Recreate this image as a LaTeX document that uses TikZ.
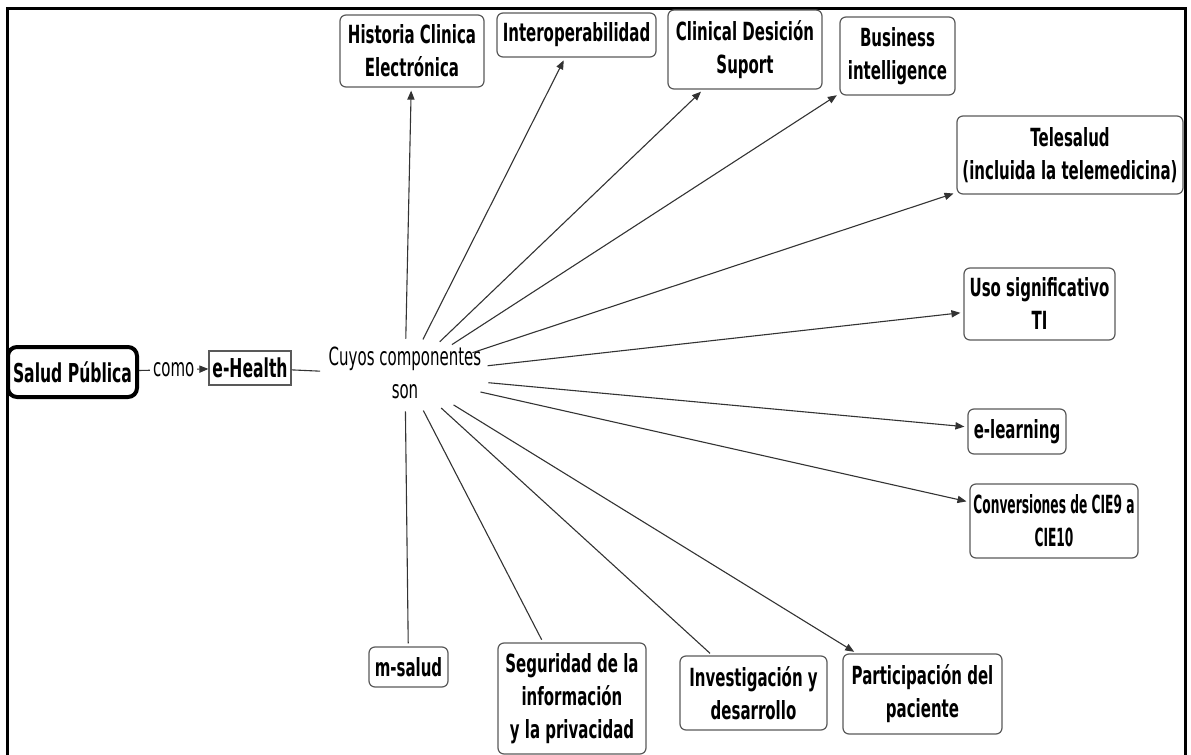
\documentclass[tikz,border=0pt]{standalone}
\usepackage{fontspec}
\setmainfont{DejaVu Sans}[FakeStretch=0.6]
\newfontfamily\narrowfont{DejaVu Sans}[FakeStretch=0.49]
\usetikzlibrary{arrows.meta,shapes.geometric}
\begin{document}
\begin{tikzpicture}[x=0.5pt,y=-0.5pt,
  box/.style={draw=black!65, line width=0.6pt, rounded corners=3pt, align=center,
    font=\bfseries\fontsize{12.5}{16.5}\selectfont, inner sep=0pt},
  conn/.style={draw=black!80, line width=0.55pt, shorten >=1.5pt},
  arr/.style={conn, -{Triangle[length=4.5pt,width=3.6pt]}},
  helper/.style={ellipse, draw=none, minimum width=85pt, minimum height=36pt, inner sep=0pt}
]
\useasboundingbox (0,0) rectangle (1191,755);
\begin{scope}
  \clip (0,0) rectangle (1191,755);
  \draw[line width=1.5pt] (7,775) -- (7,8) -- (1185,8) -- (1185,775);
\end{scope}

% main chain
\node[box, draw=black, line width=2pt, rounded corners=4.5pt, minimum width=64.5pt, minimum height=25pt,
  font=\bfseries\fontsize{13}{16}\selectfont] (sp) at (72.5,372) {Salud Pública};
\node[box, rounded corners=0pt, minimum width=41pt, minimum height=17pt,
  font=\bfseries\fontsize{13}{16}\selectfont] (eh) at (250,368) {e-Health};
\node[helper] (cuy) at (405,375) {};
\node[align=center, inner sep=0pt, font=\fontsize{12.5}{16.5}\selectfont] (cuyt) at (405,373) {Cuyos componentes\\son};

% component boxes
\node[box, minimum width=72pt, minimum height=36pt] (hce) at (412,51) {Historia Clinica\\Electrónica};
\node[box, minimum width=79.5pt, minimum height=22pt] (io) at (576.5,35) {Interoperabilidad};
\node[box, minimum width=77pt, minimum height=39.5pt] (cds) at (745,49.5) {Clinical Desición\\Suport};
\node[box, minimum width=57.5pt, minimum height=39pt] (bi) at (897.5,56) {Business\\intelligence};
\node[box, minimum width=113pt, minimum height=39pt] (tel) at (1070,155) {Telesalud\\(incluida la telemedicina)};
\node[box, minimum width=75.5pt, minimum height=36pt] (uso) at (1039.5,304) {Uso significativo\\TI};
\node[box, minimum width=49pt, minimum height=22.5pt] (el) at (1017,431.5) {e-learning};
\node[box, minimum width=84pt, minimum height=37pt,
  font=\narrowfont\bfseries\fontsize{12.5}{16.5}\selectfont] (conv) at (1054,521) {Conversiones de CIE9 a\\CIE10};
\node[box, minimum width=79.5pt, minimum height=40pt] (part) at (922.5,694) {Participación del\\paciente};
\node[box, minimum width=73.5pt, minimum height=37pt] (inv) at (753.5,693) {Investigación y\\desarrollo};
\node[box, minimum width=74pt, minimum height=55.5pt] (seg) at (572,698.5) {Seguridad de la\\información\\y la privacidad};
\node[box, minimum width=39.5pt, minimum height=20pt] (ms) at (408.5,667) {m-salud};

% connectors
\draw[arr, shorten >=0pt] (sp) -- node[fill=white, inner sep=1.5pt, font=\fontsize{12.5}{16}\selectfont] {como} (eh);
\draw[conn, shorten >=0pt] (eh) -- (cuy);
\draw[arr] (cuy) -- (hce);
\draw[arr] (cuy) -- (io);
\draw[arr] (cuy) -- (cds);
\draw[arr] (cuy) -- (bi);
\draw[arr] (cuy) -- (tel);
\draw[arr] (cuy) -- (uso);
\draw[arr] (cuy) -- (el);
\draw[arr] (cuy) -- (conv);
\draw[arr] (cuy) -- (part);
\draw[conn] (cuy) -- (inv);
\draw[conn] (cuy) -- (seg);
\draw[conn] (cuy) -- (ms);
\end{tikzpicture}
\end{document}
